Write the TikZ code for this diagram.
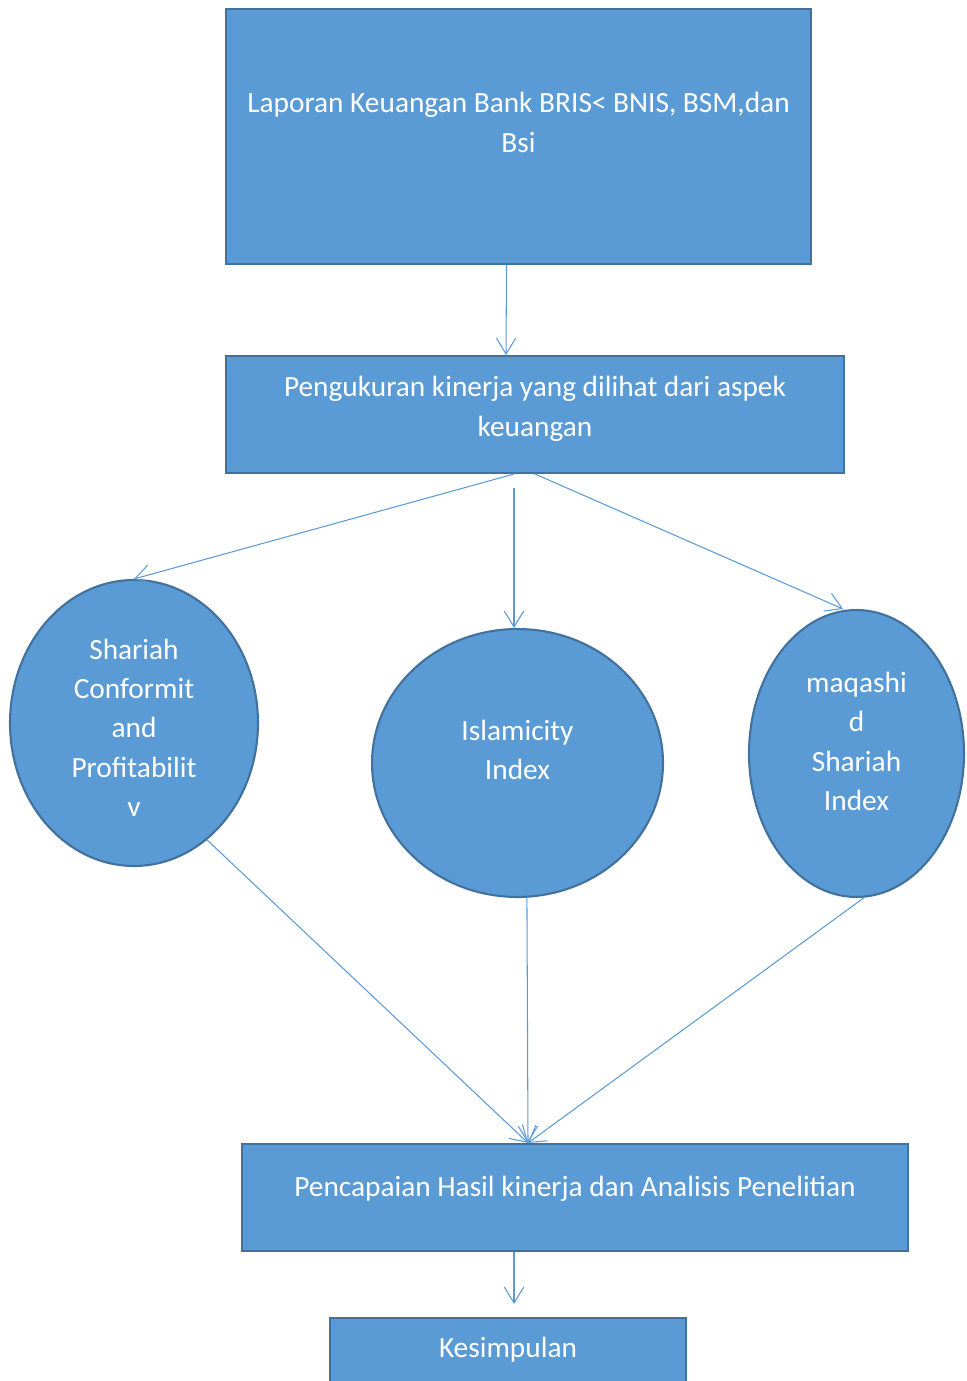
\documentclass[tikz,border=0pt]{standalone}
\usepackage{fontspec}
\setmainfont{Carlito}
\usetikzlibrary{shapes.geometric,arrows.meta,calc}
\definecolor{boxfill}{HTML}{5B9BD5}
\definecolor{boxline}{HTML}{41719C}
% shift text inside a shape without changing its extent
\newcommand{\liftup}[2]{\raisebox{#1}[\height][\depth]{\begin{tabular}{@{}c@{}}#2\end{tabular}}}
\tikzset{
  box/.style={draw=boxline, line width=1.2pt, fill=boxfill, text=white, align=center, inner sep=0pt,
    font=\fontsize{16.7}{22.4}\selectfont},
  oval/.style={ellipse, draw=boxline, line width=1.2pt, fill=boxfill, text=white, align=center, inner sep=0pt,
    font=\fontsize{16.7}{22.4}\selectfont},
  arr/.style={draw=boxfill, line width=0.6pt, -{Straight Barb[length=9pt,width=11pt]}}
}
\begin{document}
\begin{tikzpicture}[x=0.02cm, y=-0.02cm]
          \useasboundingbox (0,0) rectangle (966,1381);
          \node[box, minimum width=11.7cm, minimum height=5.1cm] (lapor) at (518.5,136.5){\liftup{6.8pt}{Laporan Keuangan Bank BRIS< BNIS, BSM,dan\\Bsi}};
          \node[box, minimum width=12.36cm, minimum height=2.34cm] (ukur) at (535,414.5){\liftup{3.4pt}{Pengukuran kinerja yang dilihat dari aspek\\keuangan}};
          \draw[arr] ($(lapor.south)+(-12,0)$) -- ($(ukur.north)+(-29,0)$);
          \node[oval, minimum width=4.96cm, minimum height=5.72cm] (scp) at (134,723){\liftup{-4pt}{Shariah\\Conformit\\and\\Profitabilit\\v}};
          \node[oval, minimum width=5.82cm, minimum height=5.36cm] (isi) at (517.5,763){\liftup{6.2pt}{Islamicity\\Index}};
          \node[oval, minimum width=4.3cm, minimum height=5.74cm] (msi) at (856.5,753.5){\liftup{5.7pt}{maqashi\\d\\Shariah\\Index}};
          \draw[arr] ($(ukur.south)+(-21,0)$) -- (scp.north);
          \draw[arr] ($(ukur.south)+(-21,14)$) -- ($(isi.north)+(-3.5,0)$);
          \draw[arr] (ukur.south) -- ($(msi.north)+(-13.5,0)$);
          \node[box, minimum width=13.32cm, minimum height=2.14cm] (hasil) at (575,1197.5){\liftup{5.1pt}{Pencapaian Hasil kinerja dan Analisis Penelitian}};
          \coordinate (temu) at ($(hasil.north)+(-47,0)$);
          \draw[arr] (scp.-58) -- (temu);
          \draw[arr] (isi.-86) -- (temu);
          \draw[arr] (msi.-87) -- (temu);
          \node[box, minimum width=7.12cm, minimum height=1.64cm] (simpul) at (508,1359){\liftup{5.1pt}{Kesimpulan}};
          \draw[arr, shorten >=13*0.02cm] ($(hasil.south)+(-61,0)$) -- (simpul.north -| 514,0);
        \end{tikzpicture}
\end{document}
